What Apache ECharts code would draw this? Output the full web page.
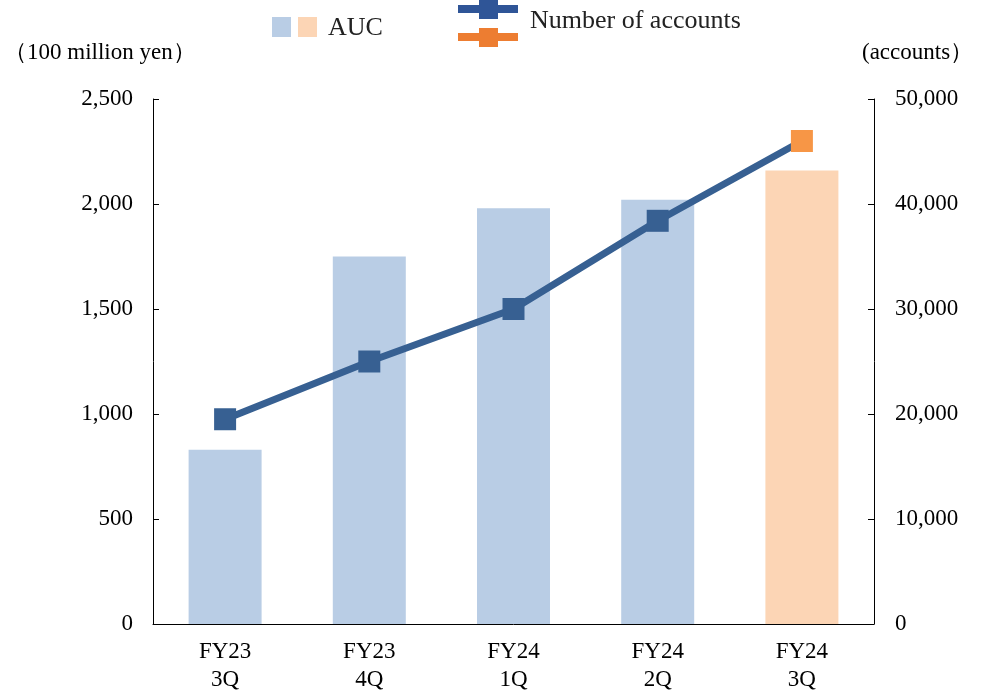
<!DOCTYPE html>
<html><head><meta charset="utf-8">
<script src="https://cdn.jsdelivr.net/npm/echarts@6/dist/echarts.min.js"></script>
<style>html,body{margin:0;padding:0;background:#fff;overflow:hidden}#c{width:988px;height:694px}</style>
</head><body><div id="c"></div>
<script>
const categories = ['FY23\n3Q', 'FY23\n4Q', 'FY24\n1Q', 'FY24\n2Q', 'FY24\n3Q'];
const aucValues = [830, 1750, 1980, 2020, 2160];
const accountValues = [19500, 25000, 30000, 38400, 46000];
const leftTicks = [0, 500, 1000, 1500, 2000, 2500];
const rightTicks = [0, 10000, 20000, 30000, 40000, 50000];

const FONT = '"Liberation Serif", "Times New Roman", serif';
const BLUE_BAR = '#B9CDE5', PEACH_BAR = '#FCD5B5';
const LINE_BLUE = '#376092', ORANGE = '#F79646';
const fmt = v => v.toLocaleString('en-US');

const chart = echarts.init(document.getElementById('c'));
chart.setOption({
  animation: false,
  textStyle: { fontFamily: FONT },
  grid: { left: 153, right: 114, top: 99, bottom: 62, containLabel: false },
  xAxis: {
    type: 'category', data: categories,
    axisLine: { lineStyle: { color: '#000', width: 1 } },
    axisTick: { show: false },
    axisLabel: { color: '#000', fontSize: 23, fontFamily: FONT, lineHeight: 28, margin: 14 }
  },
  yAxis: [{
    type: 'value', min: leftTicks[0], max: leftTicks[leftTicks.length - 1], interval: 500,
    axisLine: { show: true, lineStyle: { color: '#000' } },
    axisTick: { show: true, inside: true, length: 6, lineStyle: { color: '#000' } },
    splitLine: { show: false },
    axisLabel: { color: '#000', fontSize: 23, fontFamily: FONT, margin: 20, formatter: fmt }
  }, {
    type: 'value', min: rightTicks[0], max: rightTicks[rightTicks.length - 1], interval: 10000,
    position: 'right',
    axisLine: { show: true, lineStyle: { color: '#000' } },
    axisTick: { show: true, inside: true, length: 6, lineStyle: { color: '#000' } },
    splitLine: { show: false },
    axisLabel: { color: '#000', fontSize: 23, fontFamily: FONT, margin: 21, formatter: fmt }
  }],
  series: [{
    type: 'bar', yAxisIndex: 0, barWidth: 73,
    data: aucValues.map((v, i) => ({ value: v, itemStyle: { color: i === aucValues.length - 1 ? PEACH_BAR : BLUE_BAR } }))
  }, {
    type: 'line', yAxisIndex: 1, symbol: 'rect', symbolSize: 22,
    lineStyle: { color: LINE_BLUE, width: 7 },
    itemStyle: { color: LINE_BLUE },
    data: accountValues.map((v, i) => ({ value: v, itemStyle: { color: i === accountValues.length - 1 ? ORANGE : LINE_BLUE } })),
    z: 5
  }],
  graphic: [
    { type: 'rect', shape: { x: 272, y: 17, width: 19, height: 20 }, style: { fill: BLUE_BAR } },
    { type: 'rect', shape: { x: 298, y: 17, width: 19, height: 20 }, style: { fill: PEACH_BAR } },
    { type: 'text', x: 328, y: 28, style: { text: 'AUC', font: '26px ' + FONT, fill: '#222', textVerticalAlign: 'middle' } },
    { type: 'rect', shape: { x: 458, y: 5, width: 60, height: 8 }, style: { fill: '#2F5597' } },
    { type: 'rect', shape: { x: 479, y: 0, width: 19, height: 19 }, style: { fill: '#2F5597' } },
    { type: 'rect', shape: { x: 458, y: 33, width: 60, height: 8 }, style: { fill: '#ED7D31' } },
    { type: 'rect', shape: { x: 479, y: 28, width: 19, height: 19 }, style: { fill: '#ED7D31' } },
    { type: 'text', x: 530, y: 21, style: { text: 'Number of accounts', font: '26px ' + FONT, fill: '#222', textVerticalAlign: 'middle' } },
    { type: 'text', x: 4, y: 53, style: { text: '（100 million yen）', font: '23px ' + FONT, fill: '#000', textVerticalAlign: 'middle' } },
    { type: 'text', x: 862, y: 53, style: { text: '(accounts）', font: '23px ' + FONT, fill: '#000', textVerticalAlign: 'middle' } }
  ]
});
</script></body></html>
